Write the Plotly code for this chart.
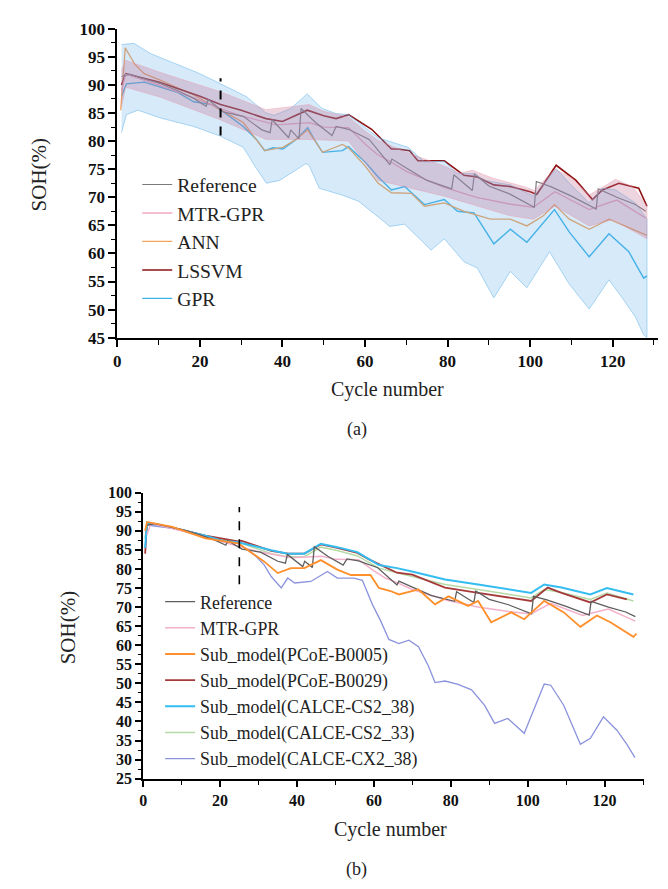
import plotly.graph_objects as go

# ======================= Panel (a) data =======================
ref_cycle = [1, 3, 6.5, 10.5, 14.5, 18.5, 21.5, 22, 25.7, 30.5, 35, 37, 37.5, 41.5, 42, 44, 44.5, 48, 52, 53, 56,
             61, 66, 66.5, 70, 75, 81, 81.5, 86, 86.5, 90, 95, 101, 101.5, 105, 110, 116, 116.5, 121, 125.5, 128]
ref_soh = [91.5, 91.9, 91.1, 90.2, 89.0, 87.6, 86.2, 87.4, 85.2, 84.4, 82.0, 81.5, 83.8, 80.6, 82.0, 80.4, 85.8, 83.3,
           81.0, 82.6, 82.1, 80.3, 75.8, 76.8, 75.2, 73.0, 71.5, 74.0, 71.2, 74.2, 72.0, 70.6, 68.2, 72.8, 71.9, 70.2,
           67.9, 71.5, 70.0, 68.7, 67.5]

mtr_cycle = [1, 2, 10, 20, 25, 30, 38.5, 46.5, 50, 56, 60, 63, 66, 70, 79, 87, 95, 100.8, 106, 110, 114.3, 117, 121, 128]
mtr_soh = [89.0, 91.9, 90.0, 87.3, 85.8, 84.5, 82.9, 83.3, 82.5, 82.4, 79.5, 77.6, 76.4, 74.6, 71.8, 70.0, 68.8, 68.2,
           71.0, 69.5, 67.8, 68.5, 69.5, 66.3]

mtr_up_cycle = [1, 2, 10.5, 24.9, 36, 46.5, 50, 56, 60, 63, 70, 79, 83, 86, 91, 99, 101, 104, 106, 110, 114.3, 118,
                120.7, 125, 127, 128.3]
mtr_up_soh = [92.5, 94.4, 92.2, 88.8, 85.6, 86.5, 85.3, 84.3, 81.8, 80.2, 78.0, 75.6, 74.3, 74.8, 73.4, 71.8, 71.2,
              73.5, 75.0, 73.5, 70.4, 72.0, 73.2, 71.8, 69.8, 68.4]
mtr_lo_cycle = [1, 2, 10.5, 24.9, 36, 46.5, 56, 63.2, 79.2, 95.2, 100.8, 106, 114.3, 120, 128.3]
mtr_lo_soh = [86.0, 89.6, 87.8, 83.8, 80.3, 80.3, 80.0, 73.0, 70.2, 66.7, 66.1, 68.4, 64.9, 66.0, 62.6]

gpr_cycle = [1, 2.2, 6.5, 14.5, 18.5, 23, 25.7, 30.5, 33.7, 35.7, 37.7, 40.1, 43.3, 46.1, 47.7, 49.7, 54.5, 56, 60,
             63.2, 66.4, 69.6, 74.4, 79.2, 82.4, 86.4, 91.2, 95.2, 99.2, 105.9, 109.5, 114.3, 119.1, 123.9, 127.5, 128.3]
gpr_soh = [88.0, 90.2, 90.5, 88.7, 87.0, 86.5, 85.2, 82.6, 80.3, 78.3, 78.8, 78.6, 80.3, 82.4, 80.3, 78.0, 78.3, 79.0,
           76.3, 73.6, 71.3, 71.9, 68.7, 69.6, 67.5, 67.2, 61.7, 64.3, 62.0, 67.8, 63.8, 59.4, 63.5, 60.3, 55.6, 56.0]

gpr_up_cycle = [1, 4, 8, 14.5, 20, 25, 31.3, 36, 38, 42, 46, 49.6, 53, 56, 63.2, 70.4, 74.4, 79.2, 82.4, 86.4, 89,
                95.2, 100.8, 106.3, 109.5, 114.3, 117.5, 120.7, 125.5, 128.3]
gpr_up_soh = [97.2, 97.4, 95.6, 93.7, 92.0, 90.2, 87.9, 85.0, 84.6, 85.8, 88.4, 85.8, 84.9, 84.7, 80.6, 78.9, 76.3,
              76.4, 74.2, 74.2, 73.0, 72.2, 70.2, 75.1, 72.5, 69.0, 71.6, 71.3, 69.0, 66.1]
gpr_lo_cycle = [1, 2.2, 5, 10.5, 18.5, 24.9, 30.5, 33.7, 36.1, 39.3, 45.7, 46.5, 48.9, 54.4, 58.4, 63.2, 66, 69.6, 76,
                79.2, 84, 87.2, 91.2, 95.2, 99.2, 104.7, 109.5, 114.3, 119.1, 122.3, 125.5, 127.5, 128.3]
gpr_lo_soh = [81.5, 84.7, 85.5, 84.1, 82.6, 80.9, 78.9, 75.1, 72.5, 73.0, 76.0, 75.6, 71.6, 70.4, 69.3, 66.5, 64.8,
              65.2, 60.6, 62.6, 58.5, 57.4, 52.1, 56.8, 53.9, 60.3, 54.5, 50.1, 55.3, 52.1, 48.7, 45.5, 45.0]

ann_cycle = [0.8, 1.9, 4.2, 6.5, 10.5, 18.5, 24.9, 30.5, 35.7, 40.1, 43.3, 46.1, 49.7, 54.5, 56, 60, 63.2, 66.4, 71.2,
             74.4, 79.2, 84, 90.4, 95.2, 99.2, 103.2, 105.9, 109.5, 114.3, 119.1, 123.9, 128.3]
ann_soh = [85.5, 96.6, 93.7, 92.0, 90.8, 88.2, 85.6, 83.3, 78.3, 78.9, 80.3, 82.0, 78.0, 79.4, 78.8, 75.6, 72.5, 70.8,
           70.7, 68.4, 69.0, 67.5, 66.1, 66.1, 64.9, 66.7, 68.7, 66.1, 64.3, 66.1, 64.6, 63.2]

lssvm_cycle = [1, 2, 10, 20, 25, 30, 36, 40, 46, 50, 53, 56, 61.6, 66.4, 67.9, 70.8, 72.8, 79.2, 84, 87.2, 91.2, 95.2,
               100, 101.6, 106.3, 111.1, 115.1, 117.5, 121.5, 126.3, 128.3]
lssvm_soh = [90.0, 92.0, 90.5, 88.0, 86.5, 85.5, 84.0, 83.5, 85.5, 84.5, 84.0, 84.7, 82.1, 78.6, 78.6, 78.3, 76.5,
             76.5, 73.9, 73.6, 72.2, 71.9, 71.0, 70.5, 75.7, 73.0, 69.6, 71.3, 72.5, 71.6, 68.4]

# ======================= Panel (b) data =======================
cs238_cycle = [0.5, 1, 7.6, 16.2, 20.5, 24.7, 33.3, 37.6, 41.9, 46.2, 50.5, 55.7, 61.3, 66, 69.9, 78.5, 87.1, 95.7,
               100.9, 104.3, 108.8, 116.3, 120.6, 127.5]
cs238_soh = [85.5, 92.1, 90.8, 88.7, 87.4, 87.0, 84.9, 84.0, 84.0, 86.6, 85.7, 84.4, 81.0, 80.2, 79.3, 77.2, 75.9,
             74.6, 73.7, 75.9, 75.1, 73.3, 75.0, 73.3]

cs233_cycle = [0.5, 1, 7.6, 16.2, 24.7, 33.3, 37.6, 41.9, 46.2, 50.5, 55.7, 61.3, 66, 78.5, 87.1, 95.7, 100.9, 104.3,
               108.8, 116.3, 120.6, 127.5]
cs233_soh = [88.0, 92.1, 90.8, 88.7, 87.0, 84.0, 83.2, 83.2, 85.7, 84.8, 83.4, 80.2, 79.0, 75.9, 74.6, 73.2, 72.4,
             74.6, 73.8, 72.0, 73.7, 71.6]

b0029_cycle = [0.5, 1, 7.6, 16.2, 24.7, 25.5, 33.3, 37.6, 41.9, 46.2, 50.5, 55.7, 59.1, 66, 70, 78.5, 87.1, 95.7,
               100.9, 105.2, 108.8, 116.3, 120.6, 125.8]
b0029_soh = [84.0, 92.1, 90.8, 88.7, 87.2, 87.4, 84.7, 84.0, 84.0, 86.4, 85.5, 84.2, 82.3, 79.0, 78.5, 75.1, 73.7,
             72.4, 71.6, 75.1, 73.7, 71.2, 73.3, 72.0]

b0005_cycle = [0.5, 1, 7.6, 16.2, 24.7, 29, 31.5, 35, 38.4, 41.9, 46.2, 50.5, 54, 59.1, 61.3, 64.3, 66.5, 71.6, 75.9,
               79.4, 84.5, 87.1, 90.5, 95.7, 99.1, 104.3, 109.4, 113.7, 118, 121.5, 124.9, 127.5, 128.3]
b0005_soh = [90.0, 92.3, 91.0, 88.0, 86.7, 83.6, 81.9, 78.9, 80.2, 80.2, 82.3, 79.8, 78.4, 78.4, 75.0, 74.2, 73.3,
             74.6, 70.7, 72.8, 70.3, 71.6, 66.0, 68.6, 66.8, 71.6, 68.6, 64.8, 67.8, 66.0, 63.9, 62.2, 63.0]

cx238_cycle = [0.5, 1, 7.6, 16.2, 24.7, 29, 31.5, 33.3, 35.9, 37.6, 39.4, 43.6, 47.9, 50.5, 54.8, 57, 59.6, 61.7,
               63.9, 66.5, 69.1, 71.6, 74.2, 75.9, 78.5, 81.9, 85.4, 88.8, 91.4, 94.8, 99.1, 104.3, 106, 109.4,
               113.7, 116.3, 119.7, 123.2, 125.8, 127.9]
cx238_soh = [88.0, 91.5, 90.6, 88.5, 86.7, 83.6, 81.0, 78.0, 75.0, 77.6, 76.3, 76.7, 79.3, 77.6, 77.6, 77.0, 70.7,
             66.5, 61.5, 60.4, 61.3, 59.6, 54.5, 50.2, 50.6, 49.7, 48.3, 44.2, 39.5, 40.8, 36.9, 49.8, 49.5, 44.2,
             34.0, 35.6, 41.2, 37.7, 34.0, 30.5]

split_cycle = 25

FONT = "Liberation Serif, Times New Roman, serif"
W, H = 668, 889

fig = go.Figure()


def line(xs, ys, name, color, width, legend, rank, xa, ya, show=True):
    fig.add_trace(go.Scatter(x=xs, y=ys, mode="lines", name=name, line=dict(color=color, width=width),
                             legend=legend, legendrank=rank, showlegend=show, xaxis=xa, yaxis=ya))


def band(xu, yu, xl, yl, fill, edge, xa, ya):
    fig.add_trace(go.Scatter(x=xu + xl[::-1], y=yu + yl[::-1], mode="lines", fill="toself", fillcolor=fill,
                             line=dict(color=edge, width=0.8), showlegend=False, hoverinfo="skip",
                             xaxis=xa, yaxis=ya))


# ---- panel (a): lines first, bands over them ----
line(gpr_cycle, gpr_soh, "GPR", "#3fb3e8", 1.4, "legend", 5, "x", "y")
line(ann_cycle, ann_soh, "ANN", "#f5a25a", 1.3, "legend", 3, "x", "y")
line(lssvm_cycle, lssvm_soh, "LSSVM", "#8e1010", 1.6, "legend", 4, "x", "y")
line(mtr_cycle, mtr_soh, "MTR-GPR", "#f2a8c4", 1.3, "legend", 2, "x", "y")
line(ref_cycle, ref_soh, "Reference", "#7a7a7a", 1.2, "legend", 1, "x", "y")
band(gpr_up_cycle, gpr_up_soh, gpr_lo_cycle, gpr_lo_soh, "rgba(91,170,230,0.25)", "rgba(110,185,235,0.7)", "x", "y")
band(mtr_up_cycle, mtr_up_soh, mtr_lo_cycle, mtr_lo_soh, "rgba(195,115,150,0.30)", "rgba(235,150,170,0.5)", "x", "y")

# ---- panel (b) ----
line(cx238_cycle, cx238_soh, "Sub_model(CALCE-CX2_38)", "#8a93dc", 1.3, "legend2", 7, "x2", "y2")
line(cs233_cycle, cs233_soh, "Sub_model(CALCE-CS2_33)", "#b5daa6", 1.5, "legend2", 6, "x2", "y2")
line(b0029_cycle, b0029_soh, "Sub_model(PCoE-B0029)", "#a63a3a", 1.8, "legend2", 4, "x2", "y2")
line(cs238_cycle, cs238_soh, "Sub_model(CALCE-CS2_38)", "#33bdf0", 2.0, "legend2", 5, "x2", "y2")
line(mtr_cycle, mtr_soh, "MTR-GPR", "#f4b0cb", 1.5, "legend2", 2, "x2", "y2")
line(ref_cycle, ref_soh, "Reference", "#5e5e5e", 1.3, "legend2", 1, "x2", "y2")
line(b0005_cycle, b0005_soh, "Sub_model(PCoE-B0005)", "#ff8f2a", 1.8, "legend2", 3, "x2", "y2")

# dashed split markers
fig.add_shape(type="line", xref="x", yref="y", x0=split_cycle, x1=split_cycle, y0=81, y1=91.2,
              line=dict(color="black", width=2, dash="dash"))
fig.add_shape(type="line", xref="x2", yref="y2", x0=split_cycle, x1=split_cycle, y0=76, y1=96.2,
              line=dict(color="black", width=1.6, dash="dash"))

axis_base = dict(showline=True, linecolor="black", linewidth=2, ticks="outside", tickcolor="black",
                 showgrid=False, zeroline=False, mirror=False)


def xax(domain, anchor, rng, size, ticklen):
    return dict(axis_base, domain=domain, anchor=anchor, range=rng, tick0=0, dtick=20, ticklen=ticklen,
                tickwidth=1.5, tickfont=dict(family=FONT, size=size, color="#111", weight="bold"),
                minor=dict(ticks="outside", ticklen=ticklen - 2, tickwidth=1.2, tickcolor="black", dtick=10, tick0=0))


def yax(domain, anchor, rng, size, ticklen):
    return dict(axis_base, domain=domain, anchor=anchor, range=rng, tick0=0, dtick=5, ticklen=ticklen,
                tickwidth=1.5, tickfont=dict(family=FONT, size=size, color="#111", weight="bold"),
                minor=dict(ticks="outside", ticklen=ticklen - 3, tickwidth=1, tickcolor="black", dtick=2.5, tick0=0))


fig.update_layout(
    width=W, height=H, autosize=False,
    margin=dict(l=0, r=0, t=0, b=0),
    paper_bgcolor="white", plot_bgcolor="white",
    xaxis=xax([106 / W, 650 / W], "y", [0, 131], 17, 7),
    yaxis=yax([1 - 327.7 / H, 1 - 12 / H], "x", [45, 100], 17, 7),
    xaxis2=xax([132 / W, 636 / W], "y2", [0, 130.3], 16, 6),
    yaxis2=yax([1 - 778.3 / H, 1 - 486 / H], "x2", [25, 100], 16, 6),
    legend=dict(x=126 / W, y=1 - 151.5 / H, xanchor="left", yanchor="top", bgcolor="rgba(0,0,0,0)",
                borderwidth=0, font=dict(family=FONT, size=19.6, color="#222"), tracegroupgap=0),
    legend2=dict(x=149 / W, y=1 - 579 / H, xanchor="left", yanchor="top", bgcolor="rgba(0,0,0,0)",
                 borderwidth=0, font=dict(family=FONT, size=17.8, color="#222"), tracegroupgap=0),
    showlegend=True,
)

texts = [
    ("SOH(%)", 27, 161, 21, -90),
    ("Cycle number", 378, 381, 20, 0),
    ("(a)", 347, 421, 18, 0),
    ("SOH(%)", 56, 624, 21, -90),
    ("Cycle number", 381, 830, 20, 0),
    ("(b)", 347, 871, 18, 0),
]
for t, px, py, sz, ang in texts:
    fig.add_annotation(text=t, x=px / W, y=1 - py / H, xref="paper", yref="paper", showarrow=False,
                       xanchor="center", yanchor="middle", textangle=ang,
                       font=dict(family=FONT, size=sz, color="#222"))

fig.write_html("out.html")
